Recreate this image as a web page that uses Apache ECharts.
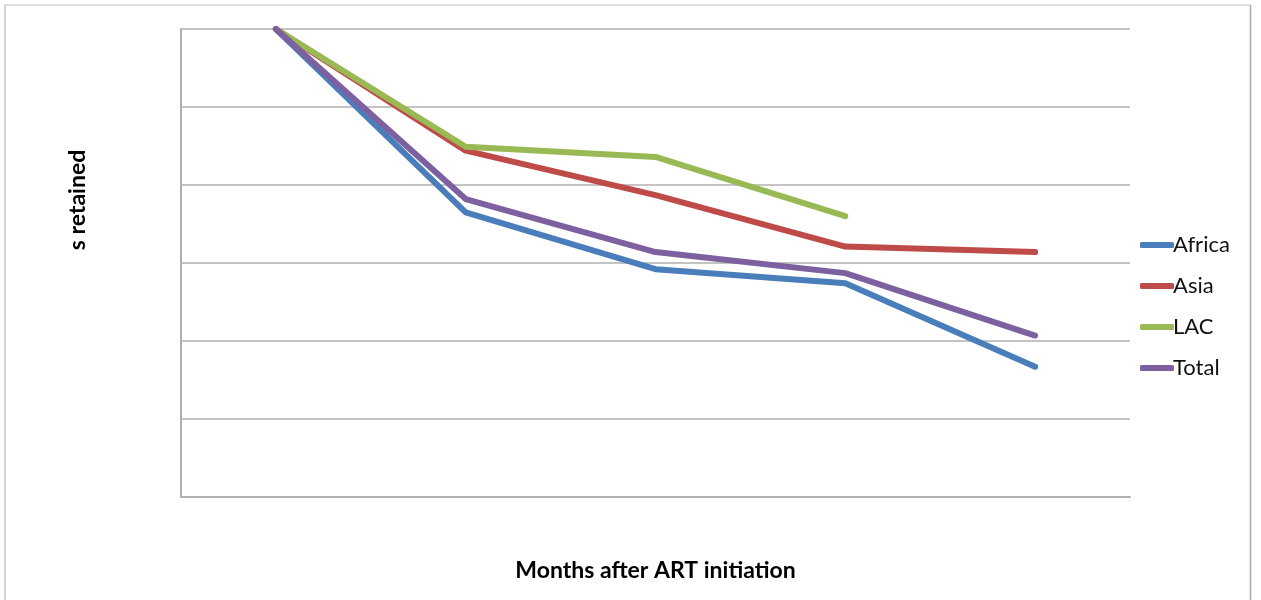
<!DOCTYPE html>
<html>
<head>
<meta charset="utf-8">
<script src="https://cdn.jsdelivr.net/npm/echarts@6/dist/echarts.min.js"></script>
<style>
html,body{margin:0;padding:0;background:#fff;}
#c{width:1261px;height:600px;}
</style>
</head>
<body>
<div id="c"></div>
<script>
var categories = ['0', '6', '12', '24', '36'];
var africa = [100, 76.5, 69.2, 67.4, 56.7];
var asia = [100, 84.4, 78.7, 72.1, 71.4];
var lac = [100, 84.9, 83.6, 76.0, null];
var total = [100, 78.2, 71.4, 68.7, 60.7];
var yMin = 40, yMax = 100, yStep = 10;

var chart = echarts.init(document.getElementById('c'));
var font = 'Lato, "Open Sans", sans-serif';
function line(name, data, color) {
  return {
    name: name, type: 'line', data: data, showSymbol: false, symbol: 'none',
    connectNulls: false, animation: false,
    lineStyle: { width: 6, color: color, cap: 'round', join: 'round' },
    itemStyle: { color: color }
  };
}
chart.setOption({
  animation: false,
  backgroundColor: '#fff',
  graphic: [
    { type: 'line', shape: { x1: 5, y1: 5, x2: 1251, y2: 5 }, style: { stroke: '#e0e0e0', lineWidth: 2 } },
    { type: 'line', shape: { x1: 5, y1: 5, x2: 5, y2: 600 }, style: { stroke: '#c8c8c8', lineWidth: 1.5 } },
    { type: 'line', shape: { x1: 1250.5, y1: 5, x2: 1250.5, y2: 600 }, style: { stroke: '#a8a8a8', lineWidth: 1.5 } }
  ],
  grid: { left: 181, top: 29, right: 131, bottom: 103, containLabel: false },
  legend: {
    orient: 'vertical', left: 1135, top: 229,
    itemWidth: 34, itemHeight: 6, itemGap: 19,
    icon: 'roundRect',
    textStyle: { fontFamily: font, fontSize: 22, color: '#111', lineHeight: 22, padding: [0, 0, 0, -6] },
    data: ['Africa', 'Asia', 'LAC', 'Total']
  },
  xAxis: {
    type: 'category', data: categories, boundaryGap: true,
    name: 'Months after ART initiation', nameLocation: 'middle', nameGap: 62,
    nameTextStyle: { fontFamily: font, fontSize: 23, fontWeight: 'bold', color: '#000' },
    axisLine: { show: true, lineStyle: { color: '#b0b0b0', width: 2 } },
    axisTick: { show: false }, axisLabel: { show: false }
  },
  yAxis: {
    type: 'value', min: yMin, max: yMax, interval: yStep,
    name: 's retained', nameLocation: 'middle', nameGap: 92, nameRotate: 90,
    nameTextStyle: { fontFamily: font, fontSize: 23, fontWeight: 'bold', color: '#000', align: 'center', padding: [0, 0, 0, 126] },
    axisLine: { show: true, lineStyle: { color: '#b0b0b0', width: 2 } },
    axisTick: { show: false }, axisLabel: { show: false },
    splitLine: { show: true, lineStyle: { color: '#b0b0b0', width: 1.5 } }
  },
  series: [
    line('Africa', africa, '#4a7ebb'),
    line('Asia', asia, '#be4b48'),
    line('LAC', lac, '#98b954'),
    line('Total', total, '#7d60a0')
  ]
});
</script>
</body>
</html>
